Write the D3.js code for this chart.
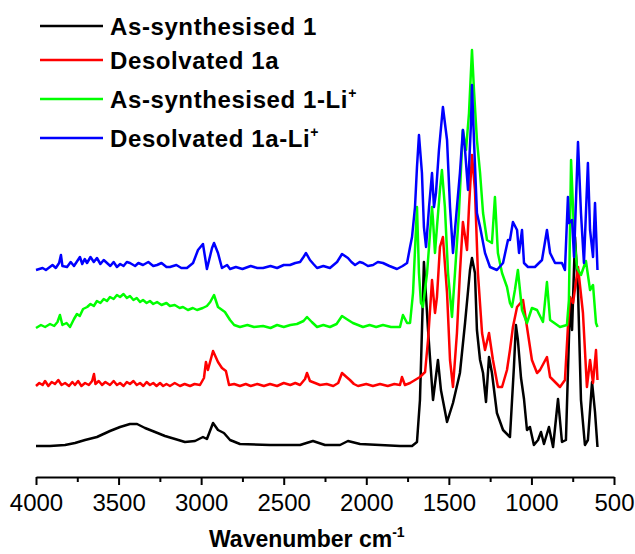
<!DOCTYPE html>
<html>
<head>
<meta charset="utf-8">
<script src="https://cdn.jsdelivr.net/npm/d3@7"></script>
<style>
body { margin: 0; background: #fff; }
svg { display: block; }
.line { fill: none; stroke-width: 2.5; stroke-linejoin: round; }
.axis text { font-family: Arial, 'Liberation Sans', sans-serif; font-size: 24px; fill: #000; }
.axis path, .axis line { stroke: #000; stroke-width: 2; }
.legend text, .title { font-family: Arial, 'Liberation Sans', sans-serif; font-weight: bold; fill: #000; }
</style>
</head>
<body>
<script>
// [wavenumber cm-1, intensity a.u. incl. stacking offset]
var asSynth1 = [[4000,1],[3915,1],[3824,2],[3764,4],[3703,7],[3631,10],[3552,16],[3491,20],[3431,23],[3388,23],[3340,19],
    [3279,15],[3219,11],[3158,8],[3098,5],[3037,6],[2989,10],[2965,8],[2928,24],[2898,17],[2862,14],[2825,7],[2765,3],
    [2583,2],[2401,2],[2323,6],[2250,2],[2159,2],[2111,6],[2038,3],[1917,2],[1796,1],[1723,1],[1693,5],[1675,47],[1651,185],
    [1626,117],[1596,47],[1566,87],[1548,57],[1511,25],[1475,44],[1433,74],[1402,124],[1372,177],[1360,189],[1342,174],
    [1330,117],[1311,87],[1293,74],[1275,45],[1257,90],[1239,74],[1209,34],[1172,17],[1130,10],[1106,80],[1094,122],
    [1082,107],[1063,69],[1045,48],[1027,17],[1009,20],[985,2],[960,7],[942,15],[924,3],[894,20],[869,0],[839,48],[815,5],
    [791,7],[766,147],[754,117],[736,210],[718,157],[700,47],[676,2],[658,7],[633,65],[615,35],[600,0]]

var desolv1a = [[4000,61],[3980,64],[3960,62],[3945,66],[3925,61],[3905,65],[3885,63],[3865,67],[3845,62],[3824,64],
    [3800,61],[3780,65],[3764,62],[3745,66],[3725,61],[3703,64],[3680,62],[3660,66],[3649,73],[3640,63],[3620,66],[3600,62],
    [3580,65],[3552,62],[3530,66],[3510,62],[3491,64],[3470,61],[3450,65],[3431,63],[3410,66],[3390,62],[3370,64],[3350,61],
    [3330,65],[3310,62],[3290,64],[3270,61],[3249,64],[3230,61],[3210,63],[3189,61],[3160,64],[3128,61],[3100,63],[3067,61],
    [3040,63],[3007,62],[2983,69],[2971,85],[2959,77],[2928,96],[2898,85],[2874,79],[2850,76],[2831,62],[2800,63],[2765,61],
    [2730,63],[2700,61],[2660,63],[2620,61],[2583,63],[2540,61],[2500,64],[2460,62],[2430,64],[2401,62],[2371,68],[2359,74],
    [2341,66],[2310,64],[2280,62],[2240,63],[2200,61],[2170,64],[2147,74],[2120,70],[2099,67],[2075,63],[2050,61],[2000,63],
    [1960,61],[1917,63],[1870,61],[1830,63],[1796,62],[1784,70],[1766,62],[1735,64],[1675,70],[1644,75],[1626,107],[1602,167],
    [1584,134],[1572,150],[1554,200],[1536,210],[1511,154],[1493,87],[1475,60],[1451,114],[1433,174],[1415,225],[1390,197],
    [1378,240],[1360,292],[1342,257],[1324,174],[1299,114],[1281,97],[1257,114],[1233,87],[1203,60],[1178,60],[1148,77],
    [1130,97],[1112,120],[1087,140],[1051,147],[1027,120],[997,87],[966,74],[948,77],[906,90],[887,70],[827,60],[797,67],
    [779,120],[766,150],[748,144],[718,180],[688,134],[664,60],[645,87],[627,64],[609,97],[600,67]]

var asSynthLi = [[4000,119],[3970,122],[3945,120],[3915,123],[3890,121],[3870,125],[3855,132],[3840,122],[3815,124],
    [3794,120],[3770,128],[3752,133],[3735,131],[3715,138],[3690,140],[3670,143],[3650,141],[3631,146],[3610,144],[3590,148],
    [3570,146],[3552,150],[3530,148],[3510,152],[3491,150],[3470,153],[3450,149],[3431,151],[3410,147],[3390,149],[3370,145],
    [3352,147],[3330,144],[3310,146],[3290,143],[3267,145],[3240,142],[3210,144],[3189,141],[3160,142],[3130,139],[3110,140],
    [3080,137],[3050,139],[3025,137],[2990,139],[2965,141],[2945,145],[2922,152],[2898,140],[2856,135],[2825,127],[2800,122],
    [2765,120],[2720,122],[2680,120],[2625,121],[2580,119],[2540,122],[2500,120],[2460,122],[2420,123],[2380,126],[2359,130],
    [2330,125],[2298,120],[2260,122],[2220,120],[2180,123],[2147,131],[2110,127],[2081,124],[2050,122],[2020,120],[1980,122],
    [1940,120],[1899,122],[1850,120],[1796,120],[1778,132],[1753,124],[1735,124],[1717,154],[1693,240],[1681,174],[1669,144],
    [1657,140],[1632,174],[1602,240],[1596,227],[1584,194],[1572,220],[1554,257],[1542,277],[1524,240],[1505,174],[1481,130],
    [1463,174],[1439,234],[1421,297],[1415,317],[1396,297],[1378,334],[1360,397],[1348,357],[1330,307],[1311,274],[1293,234],
    [1269,207],[1239,204],[1221,250],[1203,194],[1178,174],[1148,160],[1130,144],[1118,140],[1100,157],[1082,177],[1057,137],
    [1027,124],[997,139],[966,137],[930,125],[906,165],[887,127],[827,120],[785,122],[773,147],[760,287],[742,214],[724,179],
    [700,172],[670,186],[645,157],[627,162],[609,124],[600,120]]

var desolvLi = [[4000,177],[3960,179],[3940,177],[3900,182],[3880,179],[3860,184],[3849,192],[3840,181],[3812,180],
    [3790,185],[3770,181],[3750,186],[3734,190],[3720,183],[3705,188],[3691,184],[3670,190],[3650,185],[3631,189],[3610,183],
    [3590,187],[3570,184],[3550,181],[3530,185],[3510,180],[3490,183],[3470,181],[3450,185],[3431,184],[3400,181],[3380,184],
    [3352,182],[3320,185],[3290,181],[3267,182],[3240,184],[3210,180],[3189,180],[3150,182],[3120,179],[3086,179],[3049,184],
    [3019,197],[2989,203],[2965,178],[2934,199],[2922,204],[2898,194],[2874,179],[2843,182],[2825,178],[2790,180],[2750,178],
    [2700,181],[2660,179],[2625,179],[2580,181],[2540,179],[2500,182],[2462,182],[2430,184],[2401,185],[2380,190],[2365,194],
    [2341,187],[2320,183],[2298,179],[2260,181],[2220,179],[2177,185],[2147,193],[2111,189],[2090,185],[2068,182],[2040,185],
    [2020,184],[1990,181],[1959,182],[1930,185],[1899,184],[1860,181],[1814,178],[1780,181],[1753,184],[1735,200],[1723,210],
    [1705,240],[1693,280],[1681,312],[1663,274],[1651,220],[1638,200],[1620,240],[1602,274],[1590,240],[1578,254],[1560,297],
    [1536,340],[1511,307],[1493,240],[1475,194],[1451,240],[1433,274],[1415,317],[1402,297],[1384,257],[1366,324],[1360,362],
    [1348,307],[1330,234],[1311,220],[1281,194],[1251,180],[1209,177],[1172,184],[1142,207],[1130,207],[1112,225],[1087,217],
    [1075,194],[1057,217],[1045,184],[1021,180],[979,180],[936,187],[906,217],[887,194],[857,184],[815,184],[797,177],
    [779,250],[773,224],[754,227],[742,190],[718,305],[700,234],[682,184],[658,284],[645,217],[627,190],[615,244],[600,177]]

var series = [asSynth1, desolv1a, asSynthLi, desolvLi]
var colors = ['#000000', '#ff0000', '#00ff00', '#0000ff']
var legendLabels = [['As-synthesised 1', ''], ['Desolvated 1a', ''], ['As-synthesised 1-Li', '+'], ['Desolvated 1a-Li', '+']]
var majorTicks = [4000, 3500, 3000, 2500, 2000, 1500, 1000, 500]
var minorTicks = [3750, 3250, 2750, 2250, 1750, 1250, 750]

var width = 635,
    height = 554

var x = d3.scaleLinear().domain([4000, 500]).range([36, 614])
var y = d3.scaleLinear().domain([0, 400]).range([447, 47])

var valueline = d3.line()
    .x(d => x(d[0]))
    .y(d => y(d[1]))

var svg = d3.select('body').append('svg')
    .attr('width', width)
    .attr('height', height)

// spectra, black first so blue ends up on top
svg.selectAll('.line')
    .data(series)
    .enter().append('path')
    .attr('class', 'line')
    .attr('stroke', (d, i) => colors[i])
    .attr('d', valueline)

// minor ticks, no labels
svg.append('g')
    .attr('class', 'axis')
    .attr('transform', 'translate(0,477)')
    .call(d3.axisBottom(x).tickValues(minorTicks).tickSize(5).tickFormat(''))
    .select('.domain').remove()

svg.append('g')
    .attr('class', 'axis')
    .attr('transform', 'translate(0,477)')
    .call(d3.axisBottom(x).tickValues(majorTicks).tickSize(8).tickSizeOuter(0).tickPadding(9).tickFormat(d3.format('d')))

// axis title
var title = svg.append('text')
    .attr('class', 'title')
    .attr('x', 209)
    .attr('y', 547)
    .style('font-size', '23px')
    .text('Wavenumber cm')
title.append('tspan')
    .attr('dy', -10)
    .style('font-size', '14px')
    .text('-1')

// legend
var legendY = [26, 60, 99, 138]
var legend = svg.append('g').attr('class', 'legend')
legendLabels.forEach((lab, i) => {
    legend.append('line')
        .attr('x1', 40).attr('x2', 103)
        .attr('y1', legendY[i]).attr('y2', legendY[i])
        .attr('stroke', colors[i])
        .attr('stroke-width', 2.5)
    var t = legend.append('text')
        .attr('x', 110)
        .attr('y', legendY[i] + 9)
        .style('font-size', '24px')
        .style('letter-spacing', '0.6px')
        .text(lab[0])
    if (lab[1]) {
        t.append('tspan')
            .attr('dy', -10)
            .style('font-size', '14px')
            .text(lab[1])
    }
})
</script>
</body>
</html>
